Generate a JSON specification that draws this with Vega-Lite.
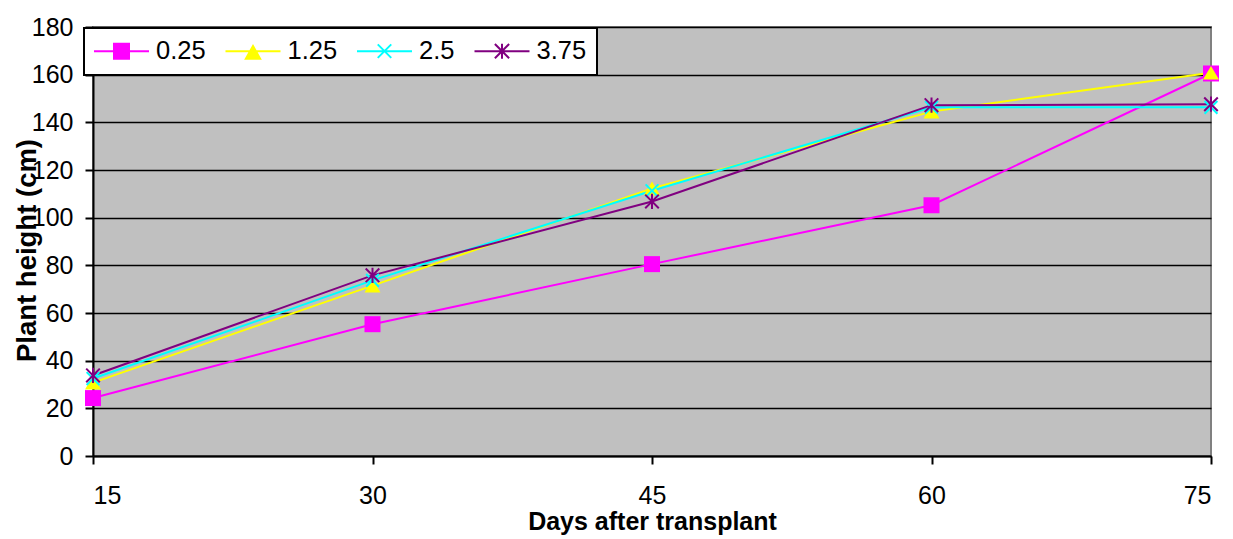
{
  "$schema": "https://vega.github.io/schema/vega-lite/v6.json",
  "width": 1118,
  "height": 429,
  "autosize": {"type": "none"},
  "padding": {"left": 93, "top": 27, "right": 22, "bottom": 83},
  "background": "white",
  "config": {
    "font": "Liberation Sans",
    "view": {"fill": "#C0C0C0", "stroke": "#808080", "strokeWidth": 2},
    "axis": {
      "labelFont": "Liberation Sans",
      "labelFontSize": 25,
      "labelColor": "black",
      "titleFont": "Liberation Sans",
      "titleFontWeight": "bold",
      "titleColor": "black",
      "domainColor": "black",
      "domainWidth": 2,
      "tickColor": "black",
      "tickWidth": 2,
      "tickSize": 8,
      "gridColor": "black",
      "gridWidth": 1.5,
      "gridOpacity": 1
    }
  },
  "data": {
    "values": [
      {"day": 15, "series": "0.25", "height": 24.3},
      {"day": 30, "series": "0.25", "height": 55.3},
      {"day": 45, "series": "0.25", "height": 80.5},
      {"day": 60, "series": "0.25", "height": 105.2},
      {"day": 75, "series": "0.25", "height": 160.5},
      {"day": 15, "series": "1.25", "height": 30.8},
      {"day": 30, "series": "1.25", "height": 71.5},
      {"day": 45, "series": "1.25", "height": 112.3},
      {"day": 60, "series": "1.25", "height": 144.5},
      {"day": 75, "series": "1.25", "height": 160.8},
      {"day": 15, "series": "2.5", "height": 32.5},
      {"day": 30, "series": "2.5", "height": 73.7},
      {"day": 45, "series": "2.5", "height": 111.3},
      {"day": 60, "series": "2.5", "height": 146.3},
      {"day": 75, "series": "2.5", "height": 146.3},
      {"day": 15, "series": "3.75", "height": 33.8},
      {"day": 30, "series": "3.75", "height": 75.8},
      {"day": 45, "series": "3.75", "height": 106.8},
      {"day": 60, "series": "3.75", "height": 147.2},
      {"day": 75, "series": "3.75", "height": 147.6}
    ]
  },
  "encoding": {
    "x": {
      "field": "day",
      "type": "quantitative",
      "scale": {"domain": [15, 75], "nice": false, "zero": false},
      "axis": {
        "values": [15, 30, 45, 60, 75],
        "grid": false,
        "title": "Days after transplant",
        "titleFontSize": 25,
        "labelBaseline": "alphabetic",
        "labelPadding": 39,
        "titleX": 559,
        "titleY": 73,
        "titleBaseline": "alphabetic"
      }
    },
    "y": {
      "field": "height",
      "type": "quantitative",
      "scale": {"domain": [0, 180], "nice": false},
      "axis": {
        "values": [0, 20, 40, 60, 80, 100, 120, 140, 160, 180],
        "title": "Plant height (cm)",
        "titleFontSize": 27.5,
        "labelPadding": 12,
        "titleX": -58,
        "titleY": 223,
        "titleAngle": -90,
        "titleBaseline": "alphabetic",
        "titleAlign": "center"
      }
    }
  },
  "layer": [
    {
      "mark": {"type": "line", "strokeWidth": 2},
      "encoding": {
        "color": {
          "field": "series",
          "type": "nominal",
          "scale": {
            "domain": ["0.25", "1.25", "2.5", "3.75"],
            "range": ["#FF00FF", "#FFFF00", "#00FFFF", "#800080"]
          },
          "legend": {
            "title": null,
            "orient": "none",
            "legendX": -9,
            "legendY": 1,
            "direction": "horizontal",
            "columns": 4,
            "fillColor": "white",
            "strokeColor": "black",
            "padding": 10,
            "labelFont": "Liberation Sans",
            "labelFontSize": 25.5,
            "labelColor": "black",
            "symbolSize": 225,
            "symbolOffset": 14.75,
            "labelOffset": 21.75,
            "columnPadding": 14.5,
            "symbolStrokeWidth": 2,
            "encode": {
              "legend": {"update": {"strokeWidth": {"value": 2}}},
              "symbols": {
                "update": {
                  "shape": {"signal": "datum.value === '0.25' ? 'M-3.667,0L3.667,0M-1,-1L1,-1L1,1L-1,1Z' : datum.value === '1.25' ? 'M-3.667,0L3.667,0M0,-0.67L0.95,1L-0.95,1Z' : datum.value === '2.5' ? 'M-3.667,0L3.667,0M-0.9,-0.9L0.9,0.9M-0.9,0.9L0.9,-0.9' : 'M-3.667,0L3.667,0M-0.95,-0.95L0.95,0.95M-0.95,0.95L0.95,-0.95M0,-1L0,1'"},
                  "fill": {"signal": "datum.value === '0.25' ? '#FF00FF' : datum.value === '1.25' ? '#FFFF00' : 'transparent'"},
                  "strokeWidth": {"value": 2},
                  "opacity": {"value": 1}
                }
              }
            }
          }
        }
      }
    },
    {
      "transform": [{"filter": "datum.series === '0.25'"}],
      "mark": {"type": "point", "shape": "M-1,-1H1V1H-1Z", "filled": true, "color": "#FF00FF", "size": 256, "opacity": 1}
    },
    {
      "transform": [{"filter": "datum.series === '1.25'"}],
      "mark": {"type": "point", "shape": "M0,-0.85L1,0.85L-1,0.85Z", "filled": true, "color": "#FFFF00", "size": 256, "opacity": 1}
    },
    {
      "transform": [{"filter": "datum.series === '2.5'"}],
      "mark": {"type": "point", "shape": "M-0.8,-0.8L0.8,0.8M-0.8,0.8L0.8,-0.8", "filled": false, "color": "#00FFFF", "strokeWidth": 2, "size": 256, "opacity": 1}
    },
    {
      "transform": [{"filter": "datum.series === '3.75'"}],
      "mark": {"type": "point", "shape": "M-0.85,-0.85L0.85,0.85M-0.85,0.85L0.85,-0.85M0,-0.95V0.95", "filled": false, "color": "#800080", "strokeWidth": 2, "size": 256, "opacity": 1}
    }
  ]
}
